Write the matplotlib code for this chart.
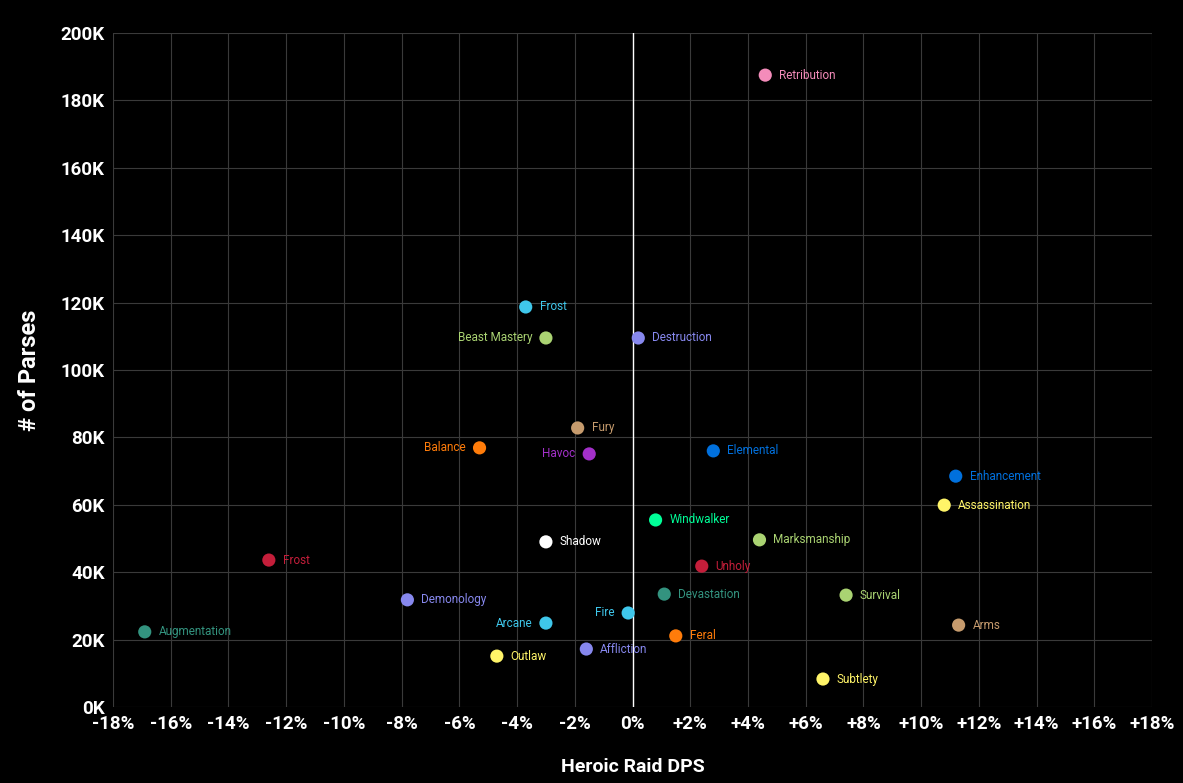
import matplotlib
matplotlib.use("Agg")
import matplotlib.pyplot as plt
from matplotlib.ticker import FuncFormatter

plt.rcParams['font.family'] = ['Roboto', 'DejaVu Sans']

specs = ["Retribution", "Frost", "Beast Mastery", "Destruction", "Fury", "Balance", "Havoc",
         "Elemental", "Enhancement", "Assassination", "Windwalker", "Marksmanship", "Shadow",
         "Frost", "Unholy", "Devastation", "Survival", "Demonology", "Fire", "Arcane", "Arms",
         "Augmentation", "Feral", "Affliction", "Outlaw", "Subtlety"]
dps_pct = [4.6, -3.7, -3.0, 0.2, -1.9, -5.3, -1.5, 2.8, 11.2, 10.8, 0.8, 4.4, -3.0,
           -12.6, 2.4, 1.1, 7.4, -7.8, -0.15, -3.0, 11.3, -16.9, 1.5, -1.6, -4.7, 6.6]
parses_k = [187.5, 118.7, 109.5, 109.5, 82.8, 76.9, 75.1, 76.0, 68.5, 59.9, 55.5, 49.6, 49.0,
            43.6, 41.8, 33.5, 33.2, 31.8, 27.9, 24.9, 24.3, 22.3, 21.1, 17.2, 15.1, 8.3]
colors = ["#F48CBA", "#3FC7EB", "#AAD372", "#8788EE", "#C69B6D", "#FF7C0A", "#A330C9",
          "#0070DD", "#0070DD", "#FFF468", "#00FF98", "#AAD372", "#FFFFFF",
          "#C41E3A", "#C41E3A", "#33937F", "#AAD372", "#8788EE", "#3FC7EB", "#3FC7EB", "#C69B6D",
          "#33937F", "#FF7C0A", "#8788EE", "#FFF468", "#FFF468"]
left_labels = {"Beast Mastery", "Balance", "Havoc", "Fire", "Arcane"}

fig = plt.figure(figsize=(11.83, 7.83), dpi=100, facecolor="black")
ax = fig.add_axes([113 / 1183, 1 - 707 / 783, (1152 - 113) / 1183, (707 - 33) / 783])
ax.set_facecolor("black")

ax.set_xlim(-18, 18)
ax.set_ylim(0, 200)
ax.set_xticks(range(-18, 19, 2))
ax.set_yticks(range(0, 201, 20))
ax.grid(True, color="#3a3a3a", linewidth=0.8)
ax.set_axisbelow(True)
ax.axvline(0, color="white", linewidth=1, zorder=1)
for s in ax.spines.values():
    s.set_visible(False)

ax.xaxis.set_major_formatter(FuncFormatter(lambda v, p: f"+{int(v)}%" if v > 0 else f"{int(v)}%"))
ax.yaxis.set_major_formatter(FuncFormatter(lambda v, p: f"{int(v)}K"))
ax.tick_params(colors="white", labelsize=13.5, length=0, pad=6)
for lab in ax.get_xticklabels() + ax.get_yticklabels():
    lab.set_fontweight("bold")

ax.scatter(dps_pct, parses_k, c=colors, s=90, zorder=3, edgecolors="none")
for name, x, y, c in zip(specs, dps_pct, parses_k, colors):
    if name in left_labels:
        ax.annotate(name, (x, y), xytext=(-10, 0), textcoords="offset points",
                    ha="right", va="center", color=c, fontsize=8.5)
    else:
        ax.annotate(name, (x, y), xytext=(10, 0), textcoords="offset points",
                    ha="left", va="center", color=c, fontsize=8.5)

ax.set_xlabel("Heroic Raid DPS", color="white", fontsize=14, fontweight="bold", labelpad=18)
ax.set_ylabel("# of Parses", color="white", fontsize=17, fontweight="bold", labelpad=14)

fig.savefig("out.png", dpi=100, facecolor="black")
